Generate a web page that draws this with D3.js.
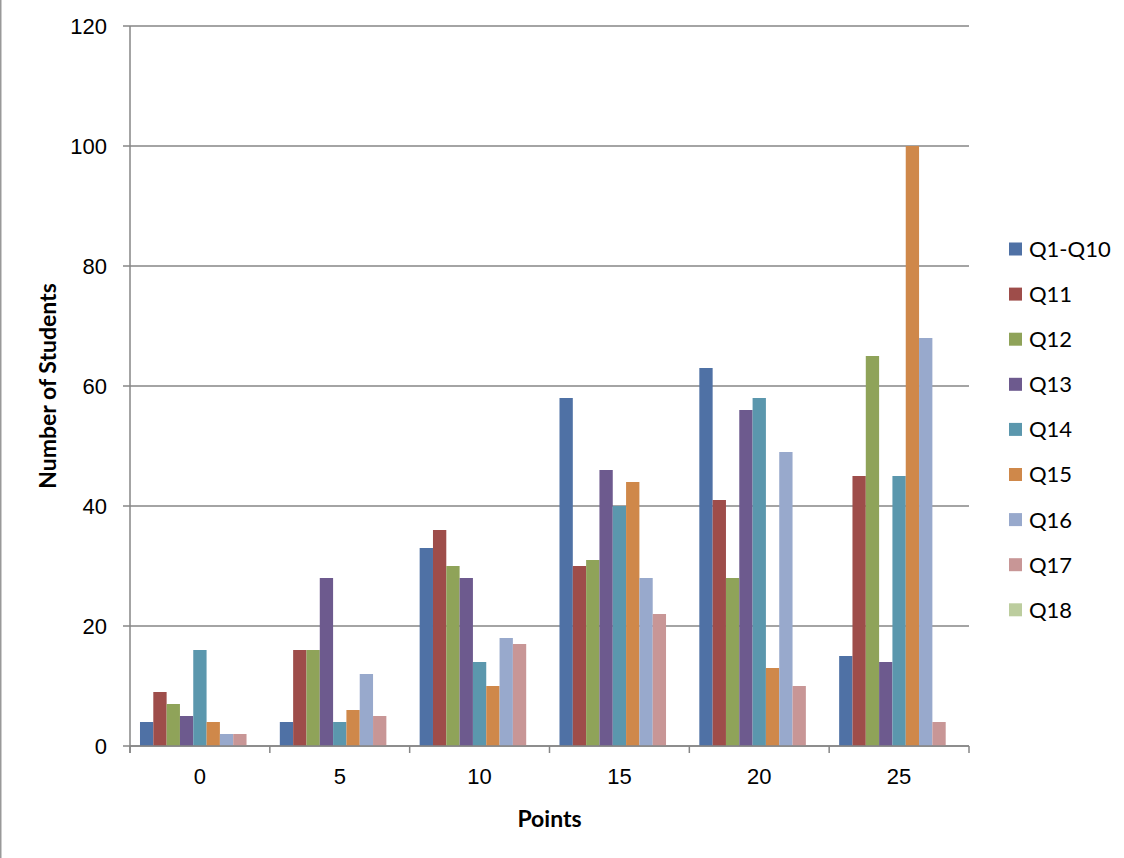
<!DOCTYPE html>
<html>
<head>
<meta charset="utf-8">
<script src="https://cdn.jsdelivr.net/npm/d3@7"></script>
<style>
  body { margin: 0; background: #fff; }
  svg { display: block; font-family: Lato, "Open Sans", sans-serif; }
  .axis text { font-size: 22px; fill: #000; }
  .title { font-size: 23px; font-weight: bold; fill: #000; }
</style>
</head>
<body>
<div id="chart"></div>
<script>
// categories (points) and series
let categories = ["0", "5", "10", "15", "20", "25"];
let seriesNames = ["Q1-Q10", "Q11", "Q12", "Q13", "Q14", "Q15", "Q16", "Q17", "Q18"];
let seriesColors = ["#4f71a5", "#9e4d4a", "#8fa359", "#6d5a8e", "#5b97ad", "#cf884a", "#98a9cc", "#c89696", "#bccd9e"];

// number of students per series, one entry per category
let q1to10 = [4, 4, 33, 58, 63, 15];
let q11 = [9, 16, 36, 30, 41, 45];
let q12 = [7, 16, 30, 31, 28, 65];
let q13 = [5, 28, 28, 46, 56, 14];
let q14 = [16, 4, 14, 40, 58, 45];
let q15 = [4, 6, 10, 44, 13, 100];
let q16 = [2, 12, 18, 28, 49, 68];
let q17 = [2, 5, 17, 22, 10, 4];
let q18 = [0, 0, 0, 0, 0, 0];

let yTicks = [0, 20, 40, 60, 80, 100, 120];

let seriesValues = [q1to10, q11, q12, q13, q14, q15, q16, q17, q18];

let W = 1124, H = 858;
let margin = { top: 26, left: 130, right: 155, bottom: 112 };
let plotW = W - margin.left - margin.right;
let plotH = H - margin.top - margin.bottom;
let gridColor = "#868686";

let svg = d3.select("#chart").append("svg")
    .attr("width", W)
    .attr("height", H);

// left frame edge
svg.append("line")
    .attr("x1", 0.75).attr("x2", 0.75)
    .attr("y1", 0).attr("y2", H)
    .attr("stroke", "#999").attr("stroke-width", 1.5);

let g = svg.append("g")
    .attr("transform", "translate(" + margin.left + "," + margin.top + ")");

// scales
let x = d3.scaleBand()
    .domain(categories)
    .range([0, plotW]);

let xInner = d3.scaleBand()
    .domain(seriesNames)
    .range([0, x.bandwidth()])
    .paddingOuter(0.75);

let y = d3.scaleLinear()
    .domain([0, 120])
    .range([plotH, 0]);

// gridlines
g.append("g")
    .selectAll("line")
    .data(yTicks)
    .enter().append("line")
    .attr("x1", -7)
    .attr("x2", plotW)
    .attr("y1", d => y(d))
    .attr("y2", d => y(d))
    .attr("stroke", gridColor)
    .attr("stroke-width", 1.5);

// y axis
let yAxis = d3.axisLeft(y).tickValues(yTicks).tickSize(0).tickPadding(23);
g.append("g")
    .attr("class", "y-axis axis")
    .call(yAxis)
    .call(a => a.select(".domain").remove());

g.append("line")
    .attr("x1", 0).attr("x2", 0)
    .attr("y1", 0).attr("y2", plotH + 7)
    .attr("stroke", gridColor)
    .attr("stroke-width", 1.5);

// bars
let groups = g.append("g")
    .selectAll("g")
    .data(categories)
    .enter().append("g")
    .attr("transform", d => "translate(" + x(d) + ",0)");

groups.selectAll("rect")
    .data((c, ci) => seriesNames.map((s, si) => ({ series: s, value: seriesValues[si][ci], color: seriesColors[si] })))
    .enter().append("rect")
    .attr("x", d => xInner(d.series))
    .attr("width", xInner.bandwidth())
    .attr("y", d => y(d.value))
    .attr("height", d => plotH - y(d.value))
    .attr("fill", d => d.color);

// x axis labels
let xAxis = d3.axisBottom(x).tickSize(0).tickPadding(22);
g.append("g")
    .attr("class", "x-axis axis")
    .attr("transform", "translate(0," + plotH + ")")
    .call(xAxis)
    .call(a => a.select(".domain").remove());

// x axis line and boundary ticks
g.append("line")
    .attr("x1", 0).attr("x2", plotW)
    .attr("y1", plotH).attr("y2", plotH)
    .attr("stroke", gridColor)
    .attr("stroke-width", 1.5);

let boundaries = categories.map(c => x(c)).concat([plotW]);
g.append("g")
    .selectAll("line")
    .data(boundaries)
    .enter().append("line")
    .attr("x1", d => d).attr("x2", d => d)
    .attr("y1", plotH).attr("y2", plotH + 7)
    .attr("stroke", gridColor)
    .attr("stroke-width", 1.5);

// axis titles
svg.append("text")
    .attr("class", "title")
    .attr("text-anchor", "middle")
    .attr("transform", "translate(56," + (margin.top + plotH / 2) + ") rotate(-90)")
    .text("Number of Students");

svg.append("text")
    .attr("class", "title")
    .attr("text-anchor", "middle")
    .attr("x", margin.left + plotW / 2)
    .attr("y", 827)
    .text("Points");

// legend
let legend = svg.append("g")
    .attr("transform", "translate(1009,249)");

let items = legend.selectAll("g")
    .data(seriesNames)
    .enter().append("g")
    .attr("transform", (d, i) => "translate(0," + (i * 45.1) + ")");

items.append("rect")
    .attr("x", 0).attr("y", -6.5)
    .attr("width", 13).attr("height", 13)
    .attr("fill", (d, i) => seriesColors[i]);

items.append("text")
    .attr("x", 20)
    .attr("dy", "0.36em")
    .style("font-size", "22px")
    .text(d => d);
</script>
</body>
</html>
